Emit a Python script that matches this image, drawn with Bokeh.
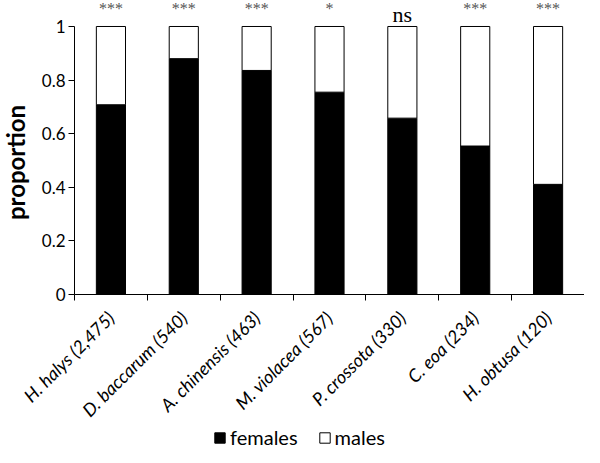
import math
from bokeh.plotting import figure
from bokeh.models import (Range1d, FixedTicker, CustomJSTickFormatter, Legend,
                          LegendItem, ColumnDataSource)
from bokeh.core.properties import value
from bokeh.embed import file_html
from bokeh.resources import INLINE

# ---- data ----
species = ["H. halys (2,475)", "D. baccarum (540)", "A. chinensis (463)",
           "M. violacea (567)", "P. crossota (330)", "C. eoa (234)",
           "H. obtusa (120)"]
females = [0.708, 0.880, 0.836, 0.755, 0.658, 0.554, 0.411]
males = [round(1 - f, 3) for f in females]
significance = ["***", "***", "***", "*", "ns", "***", "***"]
y_ticks = [0, 0.2, 0.4, 0.6, 0.8, 1]
y_title = "proportion"

positions = [i + 0.5 for i in range(len(species))]
boundaries = list(range(len(species) + 1))

src = ColumnDataSource(dict(x=positions, females=females, males=males))

p = figure(width=584, height=447, x_range=Range1d(-1.0157, len(species)),
           y_range=Range1d(-0.5709, 1.097), output_backend="svg",
           toolbar_location=None, min_border_left=0, min_border_right=0,
           min_border_top=0, min_border_bottom=0)
p.outline_line_color = None
p.xgrid.visible = False
p.ygrid.visible = False

rs = p.vbar_stack(["females", "males"], x="x", width=0.4, source=src,
                  fill_color=["black", "white"], line_color="black",
                  line_width=1)

# significance labels
star_idx = [i for i, s in enumerate(significance) if s != "ns"]
ns_idx = [i for i, s in enumerate(significance) if s == "ns"]
star_src = ColumnDataSource(dict(x=[positions[i] for i in star_idx],
                                 y=[1.068] * len(star_idx),
                                 t=[significance[i] for i in star_idx]))
ns_src = ColumnDataSource(dict(x=[positions[i] for i in ns_idx],
                               y=[1.043] * len(ns_idx),
                               t=[significance[i] for i in ns_idx]))
p.text(x="x", y="y", text="t", source=star_src,
       text_font=value("Liberation Serif"), text_font_size="16px",
       text_align="center", text_baseline="alphabetic", text_color="#555555")
p.text(x="x", y="y", text="t", source=ns_src,
       text_font=value("Liberation Serif"), text_font_size="22px",
       text_align="center", text_baseline="alphabetic", text_color="black")

# y axis drawn at x = 0
ya = p.yaxis[0]
ya.fixed_location = 0
ya.ticker = FixedTicker(ticks=y_ticks)
ya.bounds = (0, 1)
ya.formatter = CustomJSTickFormatter(
    code="return tick.toFixed(1).replace(/\\.0$/, '')")
ya.major_tick_out = 6
ya.major_tick_in = 0
ya.minor_tick_out = 0
ya.minor_tick_in = 0
ya.major_label_standoff = 3
ya.major_label_text_font = "Lato"
ya.major_label_text_font_size = "17px"
ya.major_label_text_color = "black"
ya.axis_line_color = "black"
ya.major_tick_line_color = "black"

# y axis title, centred on the 0..1 span
p.text(x=[-0.81], y=[0.4925], text=[y_title], angle=math.pi / 2,
       text_font=value("Lato"), text_font_style="bold",
       text_font_size="24px", text_align="center", text_baseline="middle",
       text_color="black")

# x axis drawn at y = 0 inside the extended frame
xa = p.xaxis[0]
xa.fixed_location = 0
xa.ticker = FixedTicker(ticks=positions, minor_ticks=boundaries)
xa.bounds = (0, len(species))
xa.formatter = CustomJSTickFormatter(
    args=dict(labels=species),
    code="return labels[Math.round(tick - 0.5)]")
xa.major_tick_in = 0
xa.major_tick_out = 0
xa.minor_tick_in = 0
xa.minor_tick_out = 6
xa.minor_tick_line_color = "black"
xa.axis_line_color = "black"
xa.major_label_orientation = math.pi / 4
xa.major_label_standoff = 14
xa.major_label_text_font = "Lato"
xa.major_label_text_font_style = "italic"
xa.major_label_text_font_size = "18px"
xa.major_label_text_color = "black"

legend = Legend(items=[LegendItem(label="females", renderers=[rs[0]]),
                       LegendItem(label="males", renderers=[rs[1]])],
                location=(213, -2), orientation="horizontal",
                glyph_width=13, glyph_height=13, label_standoff=4,
                spacing=20, padding=0, margin=0,
                label_text_font="Lato", label_text_font_size="20px",
                label_text_color="black", border_line_alpha=0,
                background_fill_alpha=0)
p.add_layout(legend)

open("out.html", "w").write(file_html(p, INLINE))
